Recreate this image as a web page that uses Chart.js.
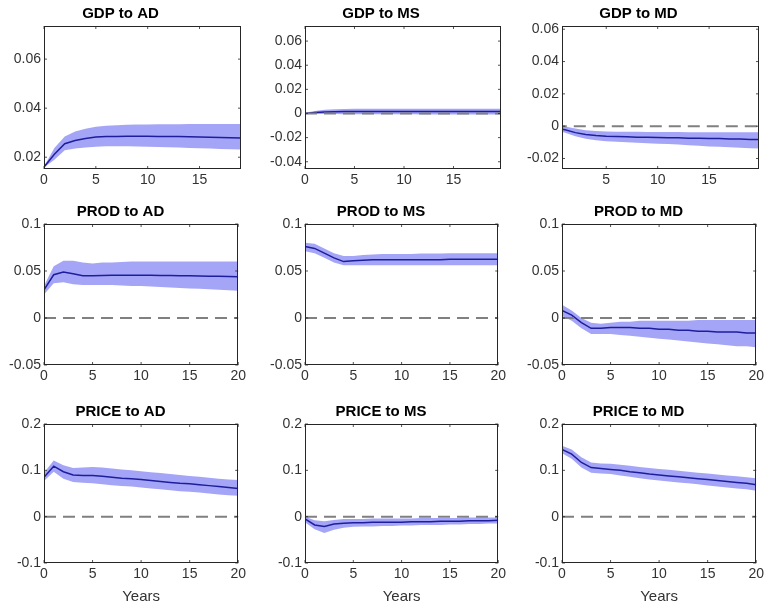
<!DOCTYPE html>
<html lang="en">
<head>
<meta charset="UTF-8">
<title>Impulse responses</title>
<script src="https://cdn.jsdelivr.net/npm/chart.js"></script>
<style>
    body { margin: 0; background: #fff; }
    #wrap { position: relative; width: 768px; height: 606px; overflow: hidden; }
    #wrap canvas { position: absolute; }
</style>
</head>
<body>
<div id="wrap"></div>
<script>
// horizon (years)
const years = [0, 1, 2, 3, 4, 5, 6, 7, 8, 9, 10, 11, 12, 13, 14, 15, 16, 17, 18, 19, 20];

const titles = [
    'GDP to AD', 'GDP to MS', 'GDP to MD',
    'PROD to AD', 'PROD to MS', 'PROD to MD',
    'PRICE to AD', 'PRICE to MS', 'PRICE to MD'
];

// responses: median + band
const gdpAdMean  = [0.0160, 0.0212, 0.0255, 0.0268, 0.0276, 0.0282, 0.0284, 0.0285, 0.0286, 0.0286, 0.0286, 0.0285, 0.0285, 0.0284, 0.0283, 0.0282, 0.0281, 0.0280, 0.0279, 0.0278, 0.0277];
const gdpAdUpper = [0.0162, 0.0238, 0.0285, 0.0305, 0.0316, 0.0324, 0.0328, 0.0330, 0.0332, 0.0333, 0.0333, 0.0334, 0.0334, 0.0334, 0.0335, 0.0335, 0.0335, 0.0335, 0.0335, 0.0335, 0.0335];
const gdpAdLower = [0.0158, 0.0190, 0.0228, 0.0236, 0.0240, 0.0243, 0.0245, 0.0245, 0.0245, 0.0244, 0.0243, 0.0242, 0.0241, 0.0240, 0.0238, 0.0237, 0.0236, 0.0234, 0.0233, 0.0231, 0.0230];

const gdpMsMean  = [0.0000, 0.0008, 0.0013, 0.0015, 0.0016, 0.0016, 0.0016, 0.0016, 0.0016, 0.0016, 0.0016, 0.0016, 0.0016, 0.0016, 0.0016, 0.0016, 0.0016, 0.0016, 0.0016, 0.0016, 0.0016];
const gdpMsUpper = [0.0006, 0.0020, 0.0032, 0.0036, 0.0038, 0.0039, 0.0039, 0.0040, 0.0040, 0.0040, 0.0040, 0.0040, 0.0040, 0.0040, 0.0040, 0.0040, 0.0040, 0.0040, 0.0040, 0.0040, 0.0040];
const gdpMsLower = [-0.0006, -0.0004, -0.0004, -0.0005, -0.0006, -0.0006, -0.0006, -0.0007, -0.0007, -0.0007, -0.0007, -0.0007, -0.0008, -0.0008, -0.0008, -0.0008, -0.0008, -0.0008, -0.0008, -0.0008, -0.0008];

const gdpMdMean  = [-0.0010, -0.0022, -0.0040, -0.0052, -0.0058, -0.0062, -0.0064, -0.0066, -0.0068, -0.0069, -0.0070, -0.0071, -0.0072, -0.0074, -0.0075, -0.0076, -0.0077, -0.0079, -0.0080, -0.0082, -0.0083];
const gdpMdUpper = [0.0005, -0.0002, -0.0015, -0.0025, -0.0030, -0.0033, -0.0034, -0.0035, -0.0035, -0.0036, -0.0036, -0.0036, -0.0036, -0.0037, -0.0037, -0.0037, -0.0037, -0.0037, -0.0038, -0.0038, -0.0038];
const gdpMdLower = [-0.0025, -0.0040, -0.0062, -0.0078, -0.0087, -0.0093, -0.0097, -0.0100, -0.0103, -0.0105, -0.0108, -0.0111, -0.0114, -0.0118, -0.0121, -0.0125, -0.0128, -0.0131, -0.0134, -0.0136, -0.0138];

const prodAdMean  = [0.030, 0.046, 0.049, 0.047, 0.045, 0.045, 0.0452, 0.0455, 0.0456, 0.0456, 0.0455, 0.0454, 0.0453, 0.0452, 0.0450, 0.0449, 0.0447, 0.0445, 0.0443, 0.0441, 0.0440];
const prodAdUpper = [0.034, 0.055, 0.061, 0.061, 0.059, 0.058, 0.059, 0.059, 0.0595, 0.060, 0.060, 0.060, 0.060, 0.060, 0.060, 0.060, 0.060, 0.060, 0.060, 0.060, 0.060];
const prodAdLower = [0.025, 0.037, 0.038, 0.036, 0.035, 0.035, 0.035, 0.035, 0.0345, 0.034, 0.034, 0.0335, 0.033, 0.0325, 0.032, 0.0315, 0.031, 0.0305, 0.030, 0.0295, 0.029];

const prodMsMean  = [0.076, 0.074, 0.069, 0.064, 0.060, 0.061, 0.0615, 0.062, 0.062, 0.062, 0.062, 0.062, 0.062, 0.062, 0.062, 0.0625, 0.0625, 0.0625, 0.0625, 0.0625, 0.0625];
const prodMsUpper = [0.080, 0.079, 0.074, 0.069, 0.066, 0.066, 0.067, 0.0675, 0.068, 0.068, 0.068, 0.068, 0.0685, 0.0685, 0.0685, 0.069, 0.069, 0.069, 0.069, 0.069, 0.069];
const prodMsLower = [0.071, 0.069, 0.064, 0.059, 0.056, 0.056, 0.056, 0.056, 0.056, 0.056, 0.056, 0.056, 0.056, 0.056, 0.056, 0.056, 0.056, 0.056, 0.056, 0.056, 0.056];

const prodMdMean  = [0.008, 0.003, -0.005, -0.011, -0.011, -0.010, -0.010, -0.010, -0.011, -0.011, -0.012, -0.012, -0.013, -0.013, -0.014, -0.014, -0.015, -0.015, -0.015, -0.016, -0.016];
const prodMdUpper = [0.014, 0.008, 0.000, -0.005, -0.006, -0.005, -0.004, -0.004, -0.003, -0.003, -0.003, -0.003, -0.003, -0.003, -0.002, -0.002, -0.002, -0.002, -0.002, -0.002, -0.002];
const prodMdLower = [0.002, -0.003, -0.011, -0.017, -0.017, -0.017, -0.018, -0.019, -0.020, -0.021, -0.022, -0.023, -0.024, -0.025, -0.026, -0.027, -0.028, -0.029, -0.030, -0.030, -0.031];

const priceAdMean  = [0.085, 0.109, 0.097, 0.090, 0.089, 0.089, 0.087, 0.085, 0.083, 0.082, 0.080, 0.078, 0.076, 0.074, 0.072, 0.071, 0.069, 0.067, 0.065, 0.063, 0.061];
const priceAdUpper = [0.095, 0.121, 0.111, 0.105, 0.106, 0.107, 0.106, 0.104, 0.102, 0.100, 0.098, 0.096, 0.094, 0.092, 0.090, 0.088, 0.086, 0.084, 0.082, 0.080, 0.079];
const priceAdLower = [0.077, 0.097, 0.082, 0.075, 0.073, 0.072, 0.070, 0.068, 0.066, 0.065, 0.063, 0.061, 0.059, 0.057, 0.055, 0.054, 0.052, 0.050, 0.048, 0.046, 0.045];

const priceMsMean  = [-0.005, -0.018, -0.021, -0.016, -0.014, -0.013, -0.013, -0.012, -0.012, -0.012, -0.012, -0.011, -0.011, -0.011, -0.010, -0.010, -0.010, -0.009, -0.009, -0.009, -0.008];
const priceMsUpper = [0.000, -0.008, -0.010, -0.007, -0.005, -0.005, -0.005, -0.004, -0.004, -0.004, -0.004, -0.004, -0.003, -0.003, -0.003, -0.003, -0.003, -0.002, -0.002, -0.002, -0.002];
const priceMsLower = [-0.012, -0.027, -0.035, -0.028, -0.024, -0.022, -0.021, -0.021, -0.020, -0.020, -0.019, -0.019, -0.018, -0.018, -0.018, -0.017, -0.017, -0.016, -0.016, -0.015, -0.015];

const priceMdMean  = [0.145, 0.135, 0.117, 0.106, 0.104, 0.102, 0.100, 0.097, 0.095, 0.092, 0.090, 0.088, 0.086, 0.084, 0.082, 0.080, 0.078, 0.076, 0.074, 0.072, 0.069];
const priceMdUpper = [0.153, 0.145, 0.128, 0.117, 0.115, 0.114, 0.112, 0.110, 0.107, 0.105, 0.103, 0.101, 0.099, 0.097, 0.095, 0.093, 0.091, 0.089, 0.087, 0.085, 0.083];
const priceMdLower = [0.137, 0.125, 0.106, 0.095, 0.093, 0.092, 0.089, 0.086, 0.083, 0.080, 0.078, 0.076, 0.074, 0.072, 0.070, 0.067, 0.065, 0.063, 0.061, 0.059, 0.056];

// tick labels
const xTicks = [0, 5, 10, 15, 20];
const yTicksGdpAd = [0.02, 0.04, 0.06];
const yTicksGdpMs = [-0.04, -0.02, 0, 0.02, 0.04, 0.06];
const yTicksGdpMd = [-0.02, 0, 0.02, 0.04, 0.06];
const yTicksProd = [-0.05, 0, 0.05, 0.1];
const yTicksPrice = [-0.1, 0, 0.1, 0.2];

// axis limits (matlab "tight" style)
const xLimits = [[0, 19], [0, 19.8], [0.7, 19.85], [0, 20], [0, 20], [0, 20], [0, 20], [0, 20], [0, 20]];
const yLimits = [[0.0152, 0.0735], [-0.046, 0.0725], [-0.0265, 0.062],
                 [-0.05, 0.1], [-0.05, 0.1], [-0.05, 0.1],
                 [-0.1, 0.2], [-0.1, 0.2], [-0.1, 0.2]];

const panels = [
    { mean: gdpAdMean, upper: gdpAdUpper, lower: gdpAdLower, yTicks: yTicksGdpAd },
    { mean: gdpMsMean, upper: gdpMsUpper, lower: gdpMsLower, yTicks: yTicksGdpMs },
    { mean: gdpMdMean, upper: gdpMdUpper, lower: gdpMdLower, yTicks: yTicksGdpMd },
    { mean: prodAdMean, upper: prodAdUpper, lower: prodAdLower, yTicks: yTicksProd },
    { mean: prodMsMean, upper: prodMsUpper, lower: prodMsLower, yTicks: yTicksProd },
    { mean: prodMdMean, upper: prodMdUpper, lower: prodMdLower, yTicks: yTicksProd },
    { mean: priceAdMean, upper: priceAdUpper, lower: priceAdLower, yTicks: yTicksPrice },
    { mean: priceMsMean, upper: priceMsUpper, lower: priceMsLower, yTicks: yTicksPrice },
    { mean: priceMdMean, upper: priceMdUpper, lower: priceMdLower, yTicks: yTicksPrice }
];

// plot boxes in page pixels
const colBox = [[44, 241], [305, 501], [562, 759]];
const rowBox = [[26, 169], [224, 365], [424, 563]];
const AXIS_W = 44, TITLE_H = 26, BOTTOM_H = 43, RIGHT_PAD = 8;

const FONT = "'Liberation Sans', Arial, Helvetica, sans-serif";
const BAND = '#a5a5f8';
const LINE = '#1e1e9c';
const INK = '#262626';

const fmt = v => parseFloat(Number(v).toFixed(4)).toString();
const pts = arr => years.map((x, i) => ({ x: x, y: arr[i] }));

// box around the axes + small inward ticks, like matlab
const framePlugin = {
    id: 'frame',
    afterDraw(chart) {
        const { ctx, chartArea: a, scales } = chart;
        ctx.save();
        ctx.strokeStyle = INK;
        ctx.lineWidth = 1;
        ctx.strokeRect(Math.round(a.left) + 0.5, Math.round(a.top) + 0.5,
                       Math.round(a.width) - 1, Math.round(a.height) - 1);
        ctx.lineWidth = 0.8;
        ctx.beginPath();
        scales.x.ticks.forEach(t => {
            const px = scales.x.getPixelForValue(t.value);
            ctx.moveTo(px, a.bottom); ctx.lineTo(px, a.bottom - 3);
            ctx.moveTo(px, a.top); ctx.lineTo(px, a.top + 3);
        });
        scales.y.ticks.forEach(t => {
            const py = scales.y.getPixelForValue(t.value);
            ctx.moveTo(a.left, py); ctx.lineTo(a.left + 3, py);
            ctx.moveTo(a.right, py); ctx.lineTo(a.right - 3, py);
        });
        ctx.stroke();
        ctx.restore();
    }
};

const wrap = document.getElementById('wrap');

panels.forEach((p, i) => {
    const row = Math.floor(i / 3), col = i % 3;
    const [L, R] = colBox[col];
    const [T, B] = rowBox[row];
    const xlim = xLimits[i], ylim = yLimits[i];

    const canvas = document.createElement('canvas');
    canvas.width = (R - L) + AXIS_W + RIGHT_PAD;
    canvas.height = (B - T) + TITLE_H + BOTTOM_H;
    canvas.style.left = (L - AXIS_W) + 'px';
    canvas.style.top = (T - TITLE_H) + 'px';
    wrap.appendChild(canvas);

    new Chart(canvas, {
        type: 'line',
        data: {
            datasets: [
                { data: pts(p.upper), fill: '+1', backgroundColor: BAND, borderWidth: 0, pointRadius: 0, order: 3 },
                { data: pts(p.lower), fill: false, borderWidth: 0, pointRadius: 0, order: 4 },
                { data: pts(p.mean), borderColor: LINE, borderWidth: 1.5, pointRadius: 0, fill: false, order: 2 },
                { data: years.map(x => ({ x: x, y: 0 })), borderColor: '#808080', borderWidth: 2,
                  borderDash: [12, 7], pointRadius: 0, fill: false, order: 1 }
            ]
        },
        options: {
            responsive: false,
            animation: false,
            devicePixelRatio: 1,
            layout: { padding: { left: 0, right: RIGHT_PAD, top: 0, bottom: 0 } },
            elements: { line: { tension: 0 } },
            plugins: {
                legend: { display: false },
                tooltip: { enabled: false },
                title: {
                    display: true,
                    text: titles[i],
                    color: '#000',
                    font: { family: FONT, size: 15, weight: 'bold', lineHeight: 1.2 },
                    padding: { top: 5, bottom: 3 }
                }
            },
            scales: {
                x: {
                    type: 'linear',
                    min: xlim[0],
                    max: xlim[1],
                    grid: { display: false, drawTicks: false },
                    border: { display: false },
                    afterBuildTicks: ax => { ax.ticks = xTicks.filter(v => v >= xlim[0] && v <= xlim[1]).map(v => ({ value: v })); },
                    afterFit: ax => { ax.height = BOTTOM_H; },
                    ticks: {
                        color: '#333',
                        font: { family: FONT, size: 14 },
                        padding: 3,
                        maxRotation: 0,
                        autoSkip: false,
                        callback: v => fmt(v)
                    },
                    title: {
                        display: row === 2,
                        text: 'Years',
                        color: '#333',
                        font: { family: FONT, size: 15 },
                        padding: { top: 0, bottom: 0 }
                    }
                },
                y: {
                    min: ylim[0],
                    max: ylim[1],
                    grid: { display: false, drawTicks: false },
                    border: { display: false },
                    afterBuildTicks: ax => { ax.ticks = p.yTicks.map(v => ({ value: v })); },
                    afterFit: ax => { ax.width = AXIS_W; },
                    ticks: {
                        color: '#333',
                        font: { family: FONT, size: 14 },
                        padding: 3,
                        autoSkip: false,
                        callback: v => fmt(v)
                    }
                }
            }
        },
        plugins: [framePlugin]
    });
});
</script>
</body>
</html>
